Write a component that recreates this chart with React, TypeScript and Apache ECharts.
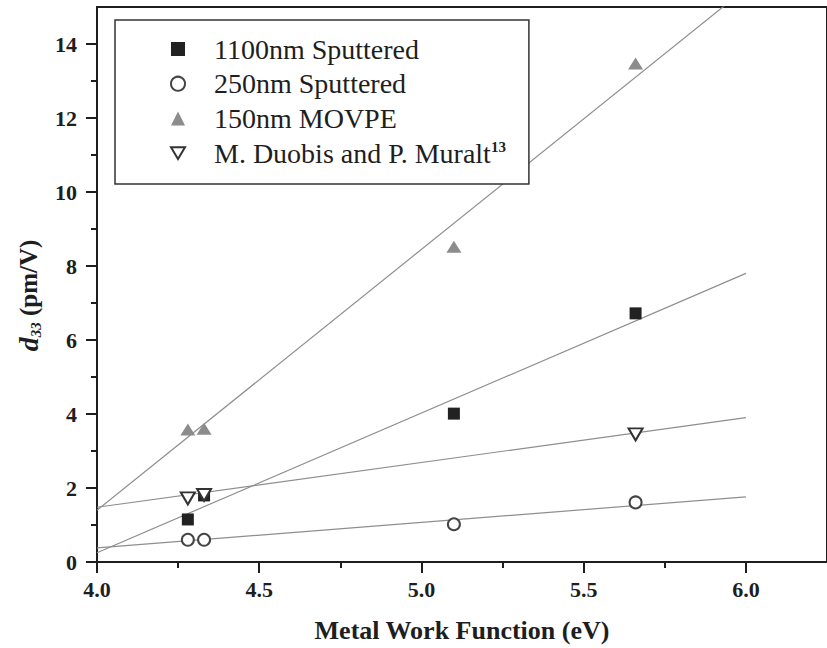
import React, { useEffect, useRef } from 'react';
import * as echarts from 'echarts';

// Axis ticks
const xTicks = [4.0, 4.5, 5.0, 5.5, 6.0];
const yTicks = [0, 2, 4, 6, 8, 10, 12, 14];

// Measured d33 vs. metal work function
const seriesNames = ['1100nm Sputtered', '250nm Sputtered', '150nm MOVPE', 'M. Duobis and P. Muralt'];
const sputtered1100 = [[4.28, 1.15], [4.33, 1.8], [5.1, 4.01], [5.66, 6.72]];
const sputtered250 = [[4.28, 0.6], [4.33, 0.6], [5.1, 1.02], [5.66, 1.61]];
const movpe150 = [[4.28, 3.58], [4.33, 3.6], [5.1, 8.52], [5.66, 13.47]];
const duobisMuralt = [[4.28, 1.72], [4.33, 1.81], [5.66, 3.45]];

// Linear fit lines (end points)
const fit1100 = [[4.0, 0.25], [6.0, 7.8]];
const fit250 = [[4.0, 0.38], [6.0, 1.76]];
const fitMovpe = [[4.0, 1.4], [6.0, 15.5]];
const fitDuobis = [[4.0, 1.48], [6.0, 3.9]];

const SERIF = 'Liberation Serif, serif';
const INK = '#1e1e1e';
const FIT = '#8e8e8e';

export default function App() {
  const ref = useRef<HTMLDivElement>(null);

  useEffect(() => {
    if (!ref.current) return;
    const chart = echarts.init(ref.current, undefined, { renderer: 'svg' });

    const fitSeries = (data: number[][]) => ({
      type: 'line',
      data,
      showSymbol: false,
      silent: true,
      z: 1,
      lineStyle: { color: FIT, width: 1.2 },
    });

    chart.setOption({
      animation: false,
      backgroundColor: '#fff',
      textStyle: { fontFamily: SERIF },
      grid: {
        left: 97,
        top: 7,
        width: 734.6,
        height: 555,
        show: true,
        borderColor: INK,
        borderWidth: 2,
        backgroundColor: 'transparent',
      },
      xAxis: {
        type: 'value',
        min: 4.0,
        max: 6.25,
        interval: 0.5,
        splitLine: { show: false },
        axisLine: { lineStyle: { color: INK, width: 2 } },
        axisTick: { customValues: xTicks, length: 11, lineStyle: { color: INK, width: 2 } },
        minorTick: { show: true, splitNumber: 2, length: 6, lineStyle: { color: INK, width: 2 } },
        axisLabel: {
          customValues: xTicks,
          formatter: (v: number) => v.toFixed(1),
          margin: 16,
          fontFamily: SERIF,
          fontWeight: 'bold',
          fontSize: 22,
          color: INK,
        },
        name: 'Metal Work Function (eV)',
        nameLocation: 'middle',
        nameGap: 55,
        nameTextStyle: { fontFamily: SERIF, fontWeight: 'bold', fontSize: 26, color: INK },
      },
      yAxis: {
        type: 'value',
        min: 0,
        max: 15,
        interval: 2,
        splitLine: { show: false },
        axisLine: { lineStyle: { color: INK, width: 2 } },
        axisTick: { customValues: yTicks, length: 11, lineStyle: { color: INK, width: 2 } },
        minorTick: { show: true, splitNumber: 2, length: 6, lineStyle: { color: INK, width: 2 } },
        axisLabel: {
          customValues: yTicks,
          margin: 20,
          fontFamily: SERIF,
          fontWeight: 'bold',
          fontSize: 22,
          color: INK,
        },
        name: '{d|d}{s|33}{u| (pm/V)}',
        nameLocation: 'middle',
        nameGap: 54,
        nameTextStyle: {
          fontFamily: SERIF,
          fontWeight: 'bold',
          color: INK,
          padding: [0, 22, 0, 0],
          rich: {
            d: { fontFamily: SERIF, fontStyle: 'italic', fontWeight: 'bold', fontSize: 28, color: INK, lineHeight: 30 },
            s: { fontFamily: SERIF, fontStyle: 'italic', fontWeight: 'bold', fontSize: 15, color: INK, verticalAlign: 'bottom', lineHeight: 30 },
            u: { fontFamily: SERIF, fontWeight: 'bold', fontSize: 25, color: INK, lineHeight: 30 },
          },
        },
      },
      legend: {
        orient: 'vertical',
        left: 115,
        top: 20,
        data: seriesNames,
        padding: [15, 23, 17, 55],
        itemGap: 6.7,
        itemWidth: 14,
        itemHeight: 14,
        borderColor: '#333',
        borderWidth: 1.5,
        backgroundColor: '#fff',
        selectedMode: false,
        formatter: (name: string) =>
          name === seriesNames[3] ? `{t|${name}}{sup|13}` : `{t|${name}}`,
        textStyle: {
          fontFamily: SERIF,
          fontSize: 28,
          color: INK,
          rich: {
            t: { fontFamily: SERIF, fontSize: 28, color: INK, lineHeight: 28, padding: [0, 0, 0, 24] },
            sup: { fontFamily: SERIF, fontSize: 15, fontWeight: 'bold', color: INK, lineHeight: 28, verticalAlign: 'top' },
          },
        },
      },
      series: [
        fitSeries(fit1100),
        fitSeries(fit250),
        fitSeries(fitMovpe),
        fitSeries(fitDuobis),
        {
          name: seriesNames[0],
          type: 'scatter',
          data: sputtered1100,
          symbol: 'rect',
          symbolSize: 12,
          z: 3,
          itemStyle: { color: '#222', opacity: 1 },
        },
        {
          name: seriesNames[1],
          type: 'scatter',
          data: sputtered250,
          symbol: 'circle',
          symbolSize: 12,
          z: 3,
          itemStyle: { color: '#fff', borderColor: '#444', borderWidth: 2, opacity: 1 },
        },
        {
          name: seriesNames[2],
          type: 'scatter',
          data: movpe150,
          symbol: 'triangle',
          symbolSize: [15, 12],
          z: 3,
          itemStyle: { color: '#8c8c8c', opacity: 1 },
        },
        {
          name: seriesNames[3],
          type: 'scatter',
          data: duobisMuralt,
          symbol: 'path://M0,0L20,0L10,17Z',
          symbolSize: [14, 12],
          z: 4,
          itemStyle: { color: '#fff', borderColor: '#333', borderWidth: 2, opacity: 1 },
        },
      ],
    });

    return () => chart.dispose();
  }, []);

  return (
    <div
      ref={ref}
      style={{ position: 'fixed', left: 0, top: 0, width: 827, height: 648, background: '#fff' }}
    />
  );
}
